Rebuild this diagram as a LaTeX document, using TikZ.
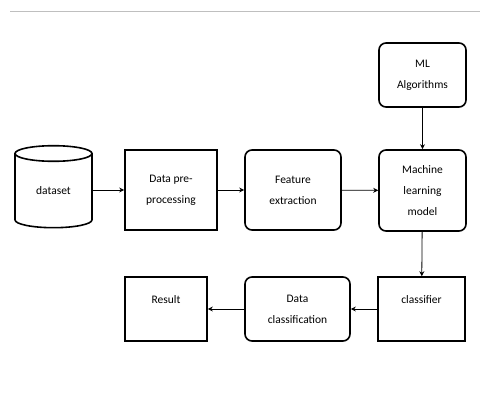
\documentclass[tikz,border=0pt]{standalone}
\usepackage{fontspec}
\setmainfont{Carlito}
\usetikzlibrary{arrows.meta, shapes.geometric}

\begin{document}
\begin{tikzpicture}[
    x=1pt, y=-1pt,
    ->, >={Stealth[length=5pt,width=5pt]},
    % Boxes: thick black outline, text centred
    boxStyle/.style={
        draw, line width=1.6pt,
        align=center,
        font=\fontsize{11.5}{21}\selectfont,
        inner sep=0pt,
        fill=white
    },
    % Same box, rounded corners
    roundStyle/.style={
        boxStyle,
        rounded corners=7pt
    },
    % One-line text sits high in the box
    highText/.style={
        text depth=18pt
    },
    % Connectors: thin
    lineStyle/.style={
        line width=0.8pt
    }
]

% frame of the picture
\useasboundingbox (0,0) rectangle (480,412);
\draw[-, gray!50, line width=1pt] (10,12) -- (480,12);

%--- Top node ---
\node[roundStyle, minimum width=87pt, minimum height=64pt] (mlalgo) at (422.5,75) {ML\\Algorithms};

%--- Middle row of nodes ---
\node[boxStyle, cylinder, shape border rotate=90, aspect=0.45,
      minimum width=77pt, minimum height=82pt] (dataset) at (53.5,191) {dataset};
\node[boxStyle, minimum width=92pt, minimum height=80pt] (prep)    at (171,190)   {Data pre-\\processing};
\node[roundStyle, minimum width=96pt, minimum height=80pt] (feature) at (293,190)  {Feature\\extraction};
\node[roundStyle, minimum width=87pt, minimum height=81pt] (model)  at (422.5,190.5) {Machine\\learning\\model};

%--- Bottom row of nodes ---
\node[boxStyle, highText, minimum width=82pt, minimum height=64pt] (result)     at (166,309)   {Result};
\node[roundStyle, minimum width=105pt, minimum height=64pt] (dataclass) at (297.5,309) {Data\\classification};
\node[boxStyle, highText, minimum width=87pt, minimum height=64pt] (classifier) at (421.5,309) {classifier};

%-----------------------
%        Edges
%-----------------------
% (1) ML Algorithms -> model
\draw[lineStyle, ->] (mlalgo) -- (model);

% (2) dataset -> pre-processing
\draw[lineStyle, ->] (dataset.east |- prep) -- (prep);

% (3) pre-processing -> feature extraction
\draw[lineStyle, ->] (prep) -- (feature);

% (4) feature extraction -> model
\draw[lineStyle, ->] (feature) -- (model);

% (5) model -> classifier
\draw[lineStyle, ->] (model) -- (classifier);

% (6) classifier -> data classification
\draw[lineStyle, ->] (classifier) -- (dataclass);

% (7) data classification -> result
\draw[lineStyle, ->] (dataclass) -- (result);
\end{tikzpicture}
\end{document}
